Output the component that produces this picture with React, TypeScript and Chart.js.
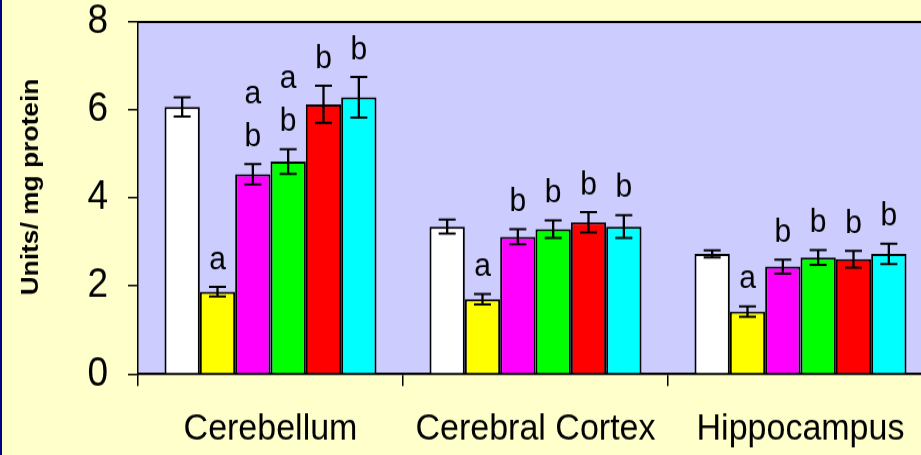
import React, { useEffect, useRef } from "react";
import { Chart, registerables } from "chart.js";

Chart.register(...registerables);

// ---- data ----
const regions = ["Cerebellum", "Cerebral Cortex", "Hippocampus"];
const yMin = 0;
const yMax = 8;
const yStep = 2;
const axisTitle = "Units/ mg protein";

const whiteVals = [6.07, 3.35, 2.73];
const whiteErr = [0.22, 0.16, 0.08];
const yellowVals = [1.87, 1.7, 1.42];
const yellowErr = [0.11, 0.12, 0.12];
const magentaVals = [4.54, 3.12, 2.44];
const magentaErr = [0.23, 0.17, 0.16];
const greenVals = [4.83, 3.29, 2.65];
const greenErr = [0.28, 0.2, 0.17];
const redVals = [6.13, 3.45, 2.61];
const redErr = [0.42, 0.23, 0.19];
const cyanVals = [6.29, 3.35, 2.73];
const cyanErr = [0.46, 0.26, 0.23];

const whiteLow = ["", "", ""];
const whiteHigh = ["", "", ""];
const yellowLow = ["a", "a", "a"];
const yellowHigh = ["", "", ""];
const magentaLow = ["b", "b", "b"];
const magentaHigh = ["a", "", ""];
const greenLow = ["b", "b", "b"];
const greenHigh = ["a", "", ""];
const redLow = ["b", "b", "b"];
const redHigh = ["", "", ""];
const cyanLow = ["b", "b", "b"];
const cyanHigh = ["", "", ""];

const FONT = "'Liberation Sans', Arial, sans-serif";
const CANVAS_W = 940;
const CANVAS_H = 414;
const STRETCH = 455 / CANVAS_H;

export default function App() {
  const ref = useRef<HTMLCanvasElement | null>(null);

  useEffect(() => {
    const canvas = ref.current;
    if (!canvas) return;

    const series = [
      { vals: whiteVals, err: whiteErr, low: whiteLow, high: whiteHigh, color: "#FFFFFF" },
      { vals: yellowVals, err: yellowErr, low: yellowLow, high: yellowHigh, color: "#FFFF00" },
      { vals: magentaVals, err: magentaErr, low: magentaLow, high: magentaHigh, color: "#FF00FF" },
      { vals: greenVals, err: greenErr, low: greenLow, high: greenHigh, color: "#00FF00" },
      { vals: redVals, err: redErr, low: redLow, high: redHigh, color: "#FF0000" },
      { vals: cyanVals, err: cyanErr, low: cyanLow, high: cyanHigh, color: "#00FFFF" },
    ];

    const bgPlugin = {
      id: "bg",
      beforeDraw(chart: any) {
        const { ctx, chartArea, width, height } = chart;
        ctx.save();
        ctx.fillStyle = "#FFFFCC";
        ctx.fillRect(0, 0, width, height);
        ctx.fillStyle = "#000080";
        ctx.fillRect(0, 0, 2, height);
        ctx.fillStyle = "#CCCCFF";
        ctx.fillRect(chartArea.left, chartArea.top, chartArea.right - chartArea.left, chartArea.bottom - chartArea.top);
        ctx.restore();
      },
      afterDraw(chart: any) {
        const { ctx, chartArea } = chart;
        ctx.save();
        ctx.strokeStyle = "#000000";
        ctx.lineWidth = 2;
        ctx.beginPath();
        ctx.moveTo(chartArea.left, chartArea.top);
        ctx.lineTo(chartArea.right, chartArea.top);
        ctx.stroke();
        // y axis title
        ctx.translate(31, 187 / STRETCH);
        ctx.rotate(-Math.PI / 2);
        ctx.font = `bold 24px ${FONT}`;
        ctx.fillStyle = "#000000";
        ctx.textAlign = "center";
        ctx.textBaseline = "middle";
        ctx.fillText(axisTitle, 0, 0);
        ctx.restore();
      },
    };

    const errPlugin = {
      id: "errbars",
      afterDatasetsDraw(chart: any) {
        const { ctx } = chart;
        const yScale = chart.scales.y;
        ctx.save();
        ctx.strokeStyle = "#000000";
        ctx.fillStyle = "#000000";
        series.forEach((s, di) => {
          const meta = chart.getDatasetMeta(di);
          meta.data.forEach((bar: any, i: number) => {
            const x = bar.x;
            const top = yScale.getPixelForValue(s.vals[i] + s.err[i]);
            const bot = yScale.getPixelForValue(s.vals[i] - s.err[i]);
            const cap = 8.5;
            ctx.lineWidth = 2.3;
            ctx.beginPath();
            ctx.moveTo(x, top);
            ctx.lineTo(x, bot);
            ctx.stroke();
            ctx.lineWidth = 2;
            ctx.beginPath();
            ctx.moveTo(x - cap, top);
            ctx.lineTo(x + cap, top);
            ctx.moveTo(x - cap, bot);
            ctx.lineTo(x + cap, bot);
            ctx.stroke();
            ctx.font = `30px ${FONT}`;
            ctx.textAlign = "center";
            ctx.textBaseline = "alphabetic";
            const base = top - 16.4;
            if (s.low[i]) ctx.fillText(s.low[i], x, base);
            if (s.high[i]) ctx.fillText(s.high[i], x, base - 39);
          });
        });
        ctx.restore();
      },
    };

    const chart = new Chart(canvas, {
      type: "bar",
      data: {
        labels: regions,
        datasets: series.map((s) => ({
          data: s.vals,
          backgroundColor: s.color,
          borderColor: "#000000",
          borderWidth: 2,
          barPercentage: 1,
          categoryPercentage: 0.8,
        })),
      },
      options: {
        responsive: false,
        animation: false,
        devicePixelRatio: 1,
        layout: { padding: { top: 0, right: 7, left: 0, bottom: 0 } },
        plugins: {
          legend: { display: false },
          tooltip: { enabled: false },
          title: { display: false },
        },
        scales: {
          x: {
            z: 1,
            grid: {
              offset: true,
              drawOnChartArea: false,
              tickLength: 11,
              color: "#000000",
              lineWidth: 1.5,
            },
            border: { display: true, color: "#000000", width: 2.2 },
            ticks: {
              color: "#000000",
              font: { family: FONT, size: 34 },
              padding: 19,
              maxRotation: 0,
              autoSkip: false,
            },
            afterFit(scale: any) {
              scale.height = CANVAS_H - 374 / STRETCH;
            },
          },
          y: {
            min: yMin,
            max: yMax,
            grid: {
              drawOnChartArea: false,
              tickLength: 10,
              color: "#000000",
              lineWidth: 1.5,
            },
            border: { display: true, color: "#000000", width: 1.5 },
            ticks: {
              stepSize: yStep,
              color: "#000000",
              font: { family: FONT, size: 37, lineHeight: 1.08 },
              padding: 20,
            },
            afterFit(scale: any) {
              scale.width = 138;
              scale.paddingTop = 22 / STRETCH;
              scale.paddingBottom = 0;
            },
          },
        },
      },
      plugins: [bgPlugin, errPlugin],
    } as any);

    return () => chart.destroy();
  }, []);

  return (
    <div
      style={{
        position: "fixed",
        left: 0,
        top: 0,
        width: 921,
        height: 455,
        overflow: "hidden",
        background: "#FFFFCC",
      }}
    >
      <div style={{ transform: `scaleY(${STRETCH})`, transformOrigin: "0 0", width: CANVAS_W, height: CANVAS_H }}>
        <canvas
          ref={ref}
          width={CANVAS_W}
          height={CANVAS_H}
          style={{ width: CANVAS_W, height: CANVAS_H, display: "block" }}
        />
      </div>
    </div>
  );
}
